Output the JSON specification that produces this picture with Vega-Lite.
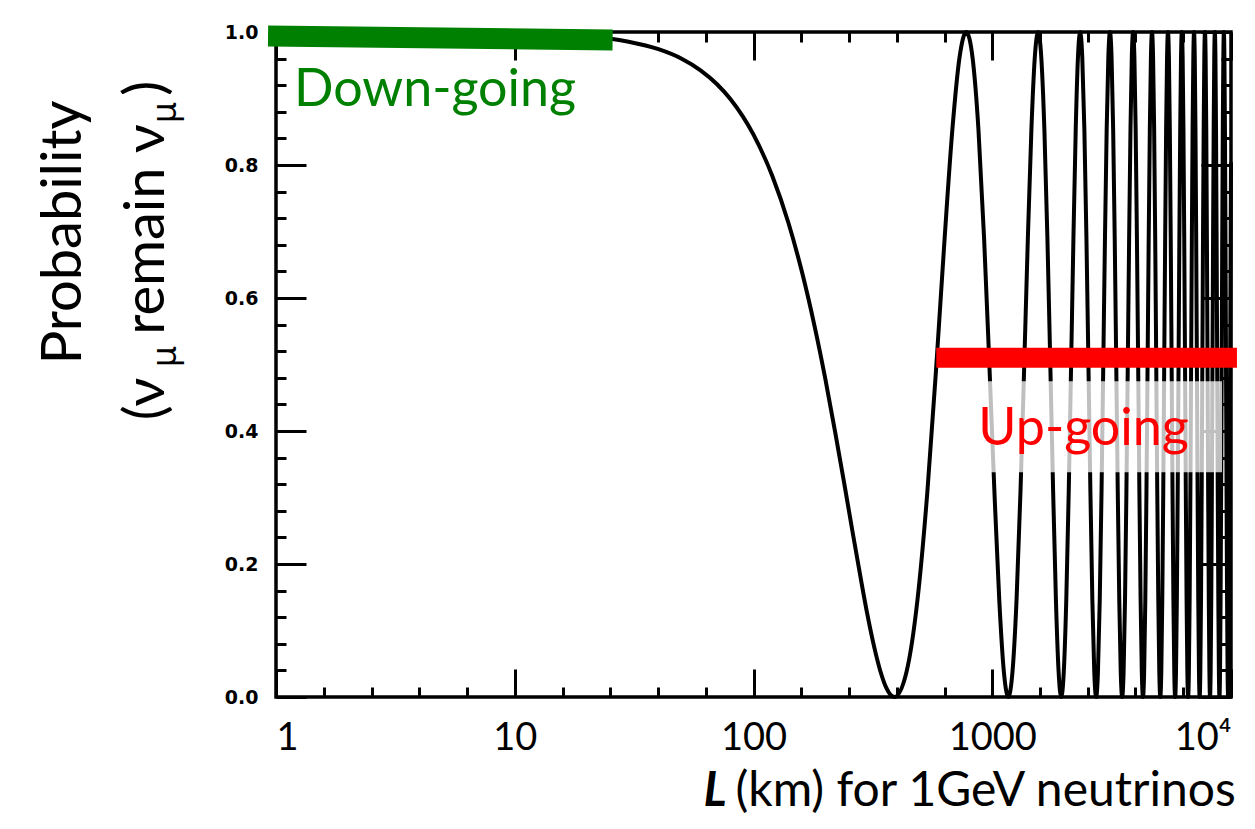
{
"$schema": "https://vega.github.io/schema/vega-lite/v6.json",
"width": 955, "height": 665,
"autosize": {"type": "none"},
"padding": {"left": 276, "top": 32, "right": 24, "bottom": 132},
"background": "white",
"config": {
  "view": {"stroke": "black", "strokeWidth": 3.5},
  "axis": {"grid": false, "domain": false, "tickColor": "black", "tickWidth": 3, "labelColor": "black", "titleColor": "black"}
},
"datasets": {
  "curve": [
    {"L":1,"P":1},{"L":5,"P":0.9996},{"L":10,"P":0.9984},{"L":15,"P":0.9963},{"L":20,"P":0.9935},{"L":30,"P":0.9854},{"L":40,"P":0.9741},{"L":50,"P":0.9598},{"L":60,"P":0.9424},{"L":70,"P":0.9222},{"L":80,"P":0.8993},{"L":100,"P":0.8456},{"L":120,"P":0.7831},{"L":140,"P":0.7131},{"L":160,"P":0.6375},{"L":180,"P":0.5585},{"L":200,"P":0.478},{"L":220,"P":0.3977},{"L":240,"P":0.3209},{"L":260,"P":0.2481},{"L":280,"P":0.1824},{"L":300,"P":0.1237},{"L":320,"P":0.0757},{"L":340,"P":0.0387},{"L":360,"P":0.0136},{"L":375,"P":0.0032},
    {"L":389,"P":0},{"L":437.6,"P":0.0381},{"L":486.3,"P":0.1464},{"L":534.9,"P":0.3087},{"L":583.5,"P":0.5},{"L":632.1,"P":0.6913},{"L":680.8,"P":0.8536},{"L":729.4,"P":0.9619},
    {"L":778,"P":1},{"L":826.6,"P":0.9619},{"L":875.3,"P":0.8536},{"L":923.9,"P":0.6913},{"L":972.5,"P":0.5},{"L":1021.1,"P":0.3087},{"L":1069.8,"P":0.1464},{"L":1118.4,"P":0.0381},
    {"L":1167,"P":0},{"L":1215.6,"P":0.0381},{"L":1264.3,"P":0.1464},{"L":1312.9,"P":0.3087},{"L":1361.5,"P":0.5},{"L":1410.1,"P":0.6913},{"L":1458.8,"P":0.8536},{"L":1507.4,"P":0.9619},
    {"L":1556,"P":1},{"L":1604.6,"P":0.9619},{"L":1653.3,"P":0.8536},{"L":1701.9,"P":0.6913},{"L":1750.5,"P":0.5},{"L":1799.1,"P":0.3087},{"L":1847.8,"P":0.1464},{"L":1896.4,"P":0.0381},
    {"L":1945,"P":0},{"L":1993.6,"P":0.0381},{"L":2042.3,"P":0.1464},{"L":2090.9,"P":0.3087},{"L":2139.5,"P":0.5},{"L":2188.1,"P":0.6913},{"L":2236.8,"P":0.8536},{"L":2285.4,"P":0.9619},
    {"L":2334,"P":1},{"L":2382.6,"P":0.9619},{"L":2431.3,"P":0.8536},{"L":2479.9,"P":0.6913},{"L":2528.5,"P":0.5},{"L":2577.1,"P":0.3087},{"L":2625.8,"P":0.1464},{"L":2674.4,"P":0.0381},
    {"L":2723,"P":0},{"L":2771.6,"P":0.0381},{"L":2820.3,"P":0.1464},{"L":2868.9,"P":0.3087},{"L":2917.5,"P":0.5},{"L":2966.1,"P":0.6913},{"L":3014.8,"P":0.8536},{"L":3063.4,"P":0.9619},
    {"L":3112,"P":1},{"L":3160.6,"P":0.9619},{"L":3209.3,"P":0.8536},{"L":3257.9,"P":0.6913},{"L":3306.5,"P":0.5},{"L":3355.1,"P":0.3087},{"L":3403.8,"P":0.1464},{"L":3452.4,"P":0.0381},
    {"L":3501,"P":0},{"L":3549.6,"P":0.0381},{"L":3598.3,"P":0.1464},{"L":3646.9,"P":0.3087},{"L":3695.5,"P":0.5},{"L":3744.1,"P":0.6913},{"L":3792.8,"P":0.8536},{"L":3841.4,"P":0.9619},
    {"L":3890,"P":1},{"L":3938.6,"P":0.9619},{"L":3987.3,"P":0.8536},{"L":4035.9,"P":0.6913},{"L":4084.5,"P":0.5},{"L":4133.1,"P":0.3087},{"L":4181.8,"P":0.1464},{"L":4230.4,"P":0.0381},
    {"L":4279,"P":0},{"L":4327.6,"P":0.0381},{"L":4376.3,"P":0.1464},{"L":4424.9,"P":0.3087},{"L":4473.5,"P":0.5},{"L":4522.1,"P":0.6913},{"L":4570.8,"P":0.8536},{"L":4619.4,"P":0.9619},
    {"L":4668,"P":1},{"L":4716.6,"P":0.9619},{"L":4765.3,"P":0.8536},{"L":4813.9,"P":0.6913},{"L":4862.5,"P":0.5},{"L":4911.1,"P":0.3087},{"L":4959.8,"P":0.1464},{"L":5008.4,"P":0.0381},
    {"L":5057,"P":0},{"L":5105.6,"P":0.0381},{"L":5154.3,"P":0.1464},{"L":5202.9,"P":0.3087},{"L":5251.5,"P":0.5},{"L":5300.1,"P":0.6913},{"L":5348.8,"P":0.8536},{"L":5397.4,"P":0.9619},
    {"L":5446,"P":1},{"L":5494.6,"P":0.9619},{"L":5543.3,"P":0.8536},{"L":5591.9,"P":0.6913},{"L":5640.5,"P":0.5},{"L":5689.1,"P":0.3087},{"L":5737.8,"P":0.1464},{"L":5786.4,"P":0.0381},
    {"L":5835,"P":0},{"L":5883.6,"P":0.0381},{"L":5932.3,"P":0.1464},{"L":5980.9,"P":0.3087},{"L":6029.5,"P":0.5},{"L":6078.1,"P":0.6913},{"L":6126.8,"P":0.8536},{"L":6175.4,"P":0.9619},
    {"L":6224,"P":1},{"L":6272.6,"P":0.9619},{"L":6321.3,"P":0.8536},{"L":6369.9,"P":0.6913},{"L":6418.5,"P":0.5},{"L":6467.1,"P":0.3087},{"L":6515.8,"P":0.1464},{"L":6564.4,"P":0.0381},
    {"L":6613,"P":0},{"L":6661.6,"P":0.0381},{"L":6710.3,"P":0.1464},{"L":6758.9,"P":0.3087},{"L":6807.5,"P":0.5},{"L":6856.1,"P":0.6913},{"L":6904.8,"P":0.8536},{"L":6953.4,"P":0.9619},
    {"L":7002,"P":1},{"L":7050.6,"P":0.9619},{"L":7099.3,"P":0.8536},{"L":7147.9,"P":0.6913},{"L":7196.5,"P":0.5},{"L":7245.1,"P":0.3087},{"L":7293.8,"P":0.1464},{"L":7342.4,"P":0.0381},
    {"L":7391,"P":0},{"L":7439.6,"P":0.0381},{"L":7488.3,"P":0.1464},{"L":7536.9,"P":0.3087},{"L":7585.5,"P":0.5},{"L":7634.1,"P":0.6913},{"L":7682.8,"P":0.8536},{"L":7731.4,"P":0.9619},
    {"L":7780,"P":1},{"L":7828.6,"P":0.9619},{"L":7877.3,"P":0.8536},{"L":7925.9,"P":0.6913},{"L":7974.5,"P":0.5},{"L":8023.1,"P":0.3087},{"L":8071.8,"P":0.1464},{"L":8120.4,"P":0.0381},
    {"L":8169,"P":0},{"L":8217.6,"P":0.0381},{"L":8266.3,"P":0.1464},{"L":8314.9,"P":0.3087},{"L":8363.5,"P":0.5},{"L":8412.1,"P":0.6913},{"L":8460.8,"P":0.8536},{"L":8509.4,"P":0.9619},
    {"L":8558,"P":1},{"L":8606.6,"P":0.9619},{"L":8655.3,"P":0.8536},{"L":8703.9,"P":0.6913},{"L":8752.5,"P":0.5},{"L":8801.1,"P":0.3087},{"L":8849.8,"P":0.1464},{"L":8898.4,"P":0.0381},
    {"L":8947,"P":0},{"L":8995.6,"P":0.0381},{"L":9044.3,"P":0.1464},{"L":9092.9,"P":0.3087},{"L":9141.5,"P":0.5},{"L":9190.1,"P":0.6913},{"L":9238.8,"P":0.8536},{"L":9287.4,"P":0.9619},
    {"L":9336,"P":1},{"L":9384.6,"P":0.9619},{"L":9433.3,"P":0.8536},{"L":9481.9,"P":0.6913},{"L":9530.5,"P":0.5},{"L":9579.1,"P":0.3087},{"L":9627.8,"P":0.1464},{"L":9676.4,"P":0.0381},
    {"L":9725,"P":0},{"L":9773.6,"P":0.0381},{"L":9822.3,"P":0.1464},{"L":9870.9,"P":0.3087},{"L":9919.5,"P":0.5},{"L":9968.1,"P":0.6913},{"L":10000,"P":0.804}
  ],
  "green": [{"L0": 0.926, "L1": 25.7, "P0": 0.994, "P1": 0.988}],
  "red": [{"L0": 583, "L1": 10590, "P": 0.51}],
  "box": [{"L0": 926, "L1": 9169, "P0": 0.475, "P1": 0.338}],
  "down": [{"L": 1.19, "P": 0.889, "t": "Down-going"}],
  "up": [{"L": 874, "P": 0.379, "t": "Up-going"}]
},
"layer": [
  {
    "data": {"name": "curve"},
    "mark": {"type": "line", "color": "black", "strokeWidth": 4, "interpolate": "monotone"},
    "encoding": {
      "x": {"field": "L", "type": "quantitative",
        "scale": {"type": "log", "domain": [1, 10000], "nice": false},
        "axis": {"orient": "bottom", "values": [1, 10, 100, 1000, 10000], "tickSize": -28,
          "labelFont": "Lato", "labelFontSize": 38, "labelPadding": 50, "labelBaseline": "top", "labelFlush": true,
          "labelExpr": "datum.value >= 10000 ? '10⁴' : format(datum.value, 'd')",
          "title": "(km) for 1GeV neutrinos", "titleFont": "Lato", "titleFontSize": 48, "titleFontWeight": "normal",
          "titleAlign": "left", "titleBaseline": "alphabetic", "titleX": 459, "titleY": 108}},
      "y": {"field": "P", "type": "quantitative",
        "scale": {"domain": [0, 1], "nice": false, "zero": false},
        "axis": {"orient": "left", "values": [0, 0.2, 0.4, 0.6, 0.8, 1], "tickSize": -30, "format": ".1f",
          "labelFont": "DejaVu Sans", "labelFontWeight": "bold", "labelFontSize": 19, "labelPadding": 48, "labelBaseline": "middle",
          "title": "Probability", "titleFont": "Lato", "titleFontSize": 56, "titleFontWeight": "normal",
          "titleAngle": 270, "titleAlign": "center", "titleBaseline": "alphabetic", "titleX": -196, "titleY": 200}}
    }
  },
  {
    "data": {"name": "box"},
    "mark": {"type": "rect", "fill": "white", "opacity": 0.75},
    "encoding": {
      "x": {"field": "L0", "type": "quantitative", "scale": {"type": "log", "domain": [1, 10000], "nice": false},
        "axis": {"orient": "top", "values": [1.585, 2.512, 3.981, 6.31, 15.85, 25.12, 39.81, 63.1, 158.5, 251.2, 398.1, 631, 1585, 2512, 3981, 6310],
          "tickSize": -10, "labels": false, "title": null}},
      "x2": {"field": "L1"},
      "y": {"field": "P0", "type": "quantitative", "scale": {"domain": [0, 1], "nice": false, "zero": false},
        "axis": {"orient": "right", "values": [0.04,0.08,0.12,0.16,0.24,0.28,0.32,0.36,0.44,0.48,0.52,0.56,0.64,0.68,0.72,0.76,0.84,0.88,0.92,0.96],
          "tickSize": -10, "labels": false,
          "title": "μ", "titleFont": "Noto Sans", "titleFontSize": 34, "titleFontWeight": "normal",
          "titleAngle": 270, "titleAlign": "center", "titleBaseline": "alphabetic", "titleX": -1056, "titleY": 80}},
      "y2": {"field": "P1"}
    }
  },
  {
    "data": {"name": "green"},
    "mark": {"type": "rule", "color": "#008000", "strokeWidth": 21, "strokeCap": "butt", "clip": false},
    "encoding": {
      "x": {"field": "L0", "type": "quantitative", "scale": {"type": "log", "domain": [1, 10000], "nice": false},
        "axis": {"orient": "bottom", "values": [1.585, 2.512, 3.981, 6.31, 15.85, 25.12, 39.81, 63.1, 158.5, 251.2, 398.1, 631, 1585, 2512, 3981, 6310],
          "tickSize": -10, "labels": false,
          "title": "L", "titleFont": "Lato", "titleFontSize": 48, "titleFontWeight": "bold", "titleFontStyle": "italic",
          "titleAlign": "left", "titleBaseline": "alphabetic", "titleX": 427, "titleY": 108}},
      "x2": {"field": "L1"},
      "y": {"field": "P0", "type": "quantitative", "scale": {"domain": [0, 1], "nice": false, "zero": false},
        "axis": {"orient": "left", "values": [0.04,0.08,0.12,0.16,0.24,0.28,0.32,0.36,0.44,0.48,0.52,0.56,0.64,0.68,0.72,0.76,0.84,0.88,0.92,0.96],
          "tickSize": -10, "labels": false,
          "title": "(ν\u00a0\u00a0\u00a0remain ν\u00a0\u00a0)", "titleFont": "Lato", "titleFontSize": 56, "titleFontWeight": "normal",
          "titleAngle": 270, "titleAlign": "center", "titleBaseline": "alphabetic", "titleX": -113, "titleY": 218}},
      "y2": {"field": "P1"}
    }
  },
  {
    "data": {"name": "red"},
    "mark": {"type": "rule", "color": "#ff0000", "strokeWidth": 20, "strokeCap": "butt", "clip": false},
    "encoding": {
      "x": {"field": "L0", "type": "quantitative", "scale": {"type": "log", "domain": [1, 10000], "nice": false},
        "axis": {"orient": "top", "values": [1, 10, 100, 1000, 10000], "tickSize": -28, "labels": false, "title": null}},
      "x2": {"field": "L1"},
      "y": {"field": "P", "type": "quantitative", "scale": {"domain": [0, 1], "nice": false, "zero": false},
        "axis": {"orient": "right", "values": [0, 0.2, 0.4, 0.6, 0.8, 1], "tickSize": -30, "labels": false,
          "title": "μ", "titleFont": "Noto Sans", "titleFontSize": 34, "titleFontWeight": "normal",
          "titleAngle": 270, "titleAlign": "center", "titleBaseline": "alphabetic", "titleX": -1056, "titleY": 324}}
    }
  },
  {
    "data": {"name": "down"},
    "mark": {"type": "text", "color": "#008000", "font": "Lato", "fontSize": 52, "align": "left", "baseline": "alphabetic"},
    "encoding": {
      "x": {"field": "L", "type": "quantitative", "scale": {"type": "log", "domain": [1, 10000], "nice": false}, "axis": null},
      "y": {"field": "P", "type": "quantitative", "scale": {"domain": [0, 1], "nice": false, "zero": false}, "axis": null},
      "text": {"field": "t"}
    }
  },
  {
    "data": {"name": "up"},
    "mark": {"type": "text", "color": "#ff0000", "font": "Lato", "fontSize": 52, "align": "left", "baseline": "alphabetic"},
    "encoding": {
      "x": {"field": "L", "type": "quantitative", "scale": {"type": "log", "domain": [1, 10000], "nice": false}, "axis": null},
      "y": {"field": "P", "type": "quantitative", "scale": {"domain": [0, 1], "nice": false, "zero": false}, "axis": null},
      "text": {"field": "t"}
    }
  }
],
"resolve": {"axis": {"x": "independent", "y": "independent"}}
}
